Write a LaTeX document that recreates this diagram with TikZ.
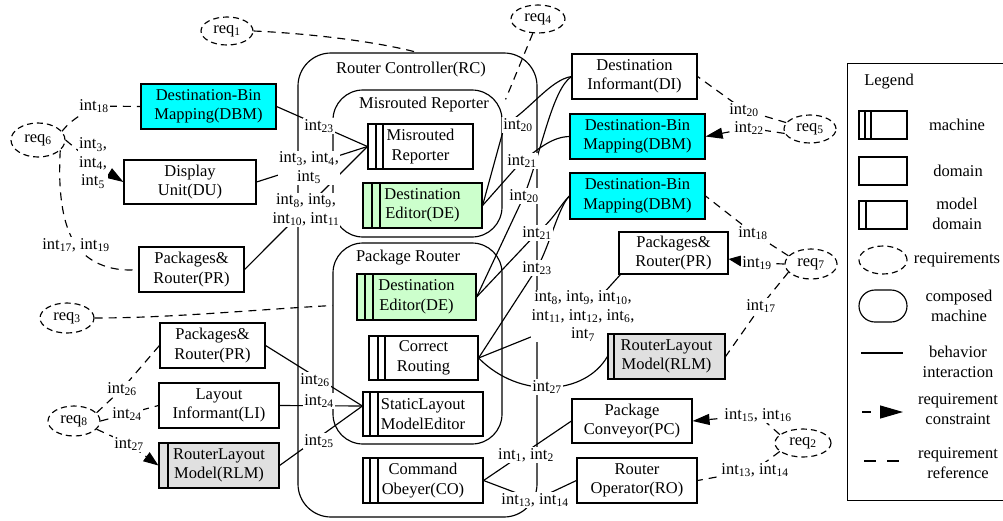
\documentclass[tikz,border=0pt]{standalone}
\usepackage{fontspec}
\setmainfont{Liberation Serif}
\usetikzlibrary{arrows.meta,shapes.geometric}
\newcommand\intx[1]{int\textsubscript{#1}}
\definecolor{dbmcyan}{RGB}{0,255,255}
\definecolor{degreen}{RGB}{204,255,204}
\definecolor{rlmgray}{RGB}{224,224,224}
\pgfdeclarelayer{edges}
\pgfsetlayers{edges,main}
\begin{document}
\begin{tikzpicture}[x=1pt,y=-1pt,line width=1.15pt,
  font=\fontsize{16.5pt}{19.5pt}\selectfont,
  every node/.style={align=center,inner sep=0pt},
  sz/.style 2 args={minimum width=#1pt,minimum height=#2pt},
  dombox/.style={draw,rectangle,fill=white},
  machbox/.style 2 args={draw,rectangle,fill=white,path picture={
    \draw ([xshift=#1pt]path picture bounding box.north west) -- ([xshift=#1pt]path picture bounding box.south west);
    \draw ([xshift=#2pt]path picture bounding box.north west) -- ([xshift=#2pt]path picture bounding box.south west);}},
  modelbox/.style={draw,rectangle,fill=rlmgray,path picture={
    \draw ([xshift=#1pt]path picture bounding box.north west) -- ([xshift=#1pt]path picture bounding box.south west);}},
  compbox/.style={draw,rectangle,rounded corners=#1},
  reqell/.style={draw,ellipse,dash pattern=on 6pt off 4pt},
  lbl/.style={fill=white,inner sep=1pt,font=\fontsize{16.5pt}{18.5pt}\selectfont},
  refer/.style={dash pattern=on 8pt off 6pt},
  constr/.style={refer,-{Triangle[length=#1,width=11pt]}},
  constr/.default=17pt]
\useasboundingbox (0,0) rectangle (1003,520);

% composed machines
\node[compbox=33pt,sz={239}{464}] (RC) at (417.5,285) {};
\node (RCt) at (411,70) {Router Controller(RC)};
\node[compbox=30pt,sz={169}{147}] (MRc) at (417.5,163.5) {};
\node (MRct) at (424,105) {Misrouted Reporter};
\node[compbox=30pt,sz={169}{201}] (PRc) at (417.5,343.5) {};
\node (PRct) at (408,258) {Package Router};

% requirements
\node[reqell,sz={52}{28}] (req1) at (227,31) {req\textsubscript{1}};
\node[reqell,sz={54}{28}] (req4) at (538,19) {req\textsubscript{4}};
\node[reqell,sz={54}{34}] (req6) at (38,140) {req\textsubscript{6}};
\node[reqell,sz={54}{30}] (req3) at (67,318) {req\textsubscript{3}};
\node[reqell,sz={52}{30}] (req8) at (74,421) {req\textsubscript{8}};
\node[reqell,sz={52}{28}] (req5) at (810,129) {req\textsubscript{5}};
\node[reqell,sz={52}{30}] (req7) at (811,264) {req\textsubscript{7}};
\node[reqell,sz={56}{28}] (req2) at (803,443) {req\textsubscript{2}};

% interface labels
\node[lbl] (t23a) at (319,126) {\intx{23}};
\node[lbl] (t345) at (309,168) {\intx{3}, \intx{4},\\\intx{5}};
\node[lbl] (t811) at (306,210) {\intx{8}, \intx{9},\\\intx{10}, \intx{11}};
\node[lbl] (t18a) at (94,106) {\intx{18}};
\node[lbl] (t345b) at (93,163) {\intx{3},\\\intx{4},\\\intx{5}};
\node[lbl] (t1719) at (76,245) {\intx{17}, \intx{19}};
\node[lbl] (t26a) at (122,389) {\intx{26}};
\node[lbl] (t24a) at (127,414) {\intx{24}};
\node[lbl] (t27a) at (129,444) {\intx{27}};
\node[lbl] (t26b) at (315,380) {\intx{26}};
\node[lbl] (t24b) at (319,401) {\intx{24}};
\node[lbl] (t25) at (319,441) {\intx{25}};
\node[lbl] (t20a) at (518,125) {\intx{20}};
\node[lbl] (t21a) at (522,161) {\intx{21}};
\node[lbl] (t20b) at (524,196) {\intx{20}};
\node[lbl] (t21b) at (537,233) {\intx{21}};
\node[lbl] (t23b) at (537,268) {\intx{23}};
\node[lbl] (t8) at (583,316) {\intx{8}, \intx{9}, \intx{10},\\\intx{11}, \intx{12}, \intx{6},\\\intx{7}};
\node[lbl] (t27b) at (547,387) {\intx{27}};
\node[lbl] (t12) at (526,455) {\intx{1}, \intx{2}};
\node[lbl] (t1314a) at (535,500) {\intx{13}, \intx{14}};
\node[lbl] (t20c) at (744,110) {\intx{20}};
\node[lbl] (t22) at (749,128) {\intx{22}};
\node[lbl] (t18b) at (753,233) {\intx{18}};
\node[lbl] (t19b) at (757,263) {\intx{19}};
\node[lbl] (t17b) at (761,306) {\intx{17}};
\node[lbl] (t1516) at (758,415) {\intx{15}, \intx{16}};
\node[lbl] (t1314b) at (755,470) {\intx{13}, \intx{14}};

% machines
\node[machbox={8}{15},sz={105}{45}] (MR) at (420.5,146.5) {Misrouted\\Reporter};
\node[machbox={9}{17},fill=degreen,sz={119}{45}] (DEm) at (422.5,205.5) {Destination\\Editor(DE)};
\node[machbox={8}{16},fill=degreen,sz={119}{46}] (DEp) at (416.5,297) {Destination\\Editor(DE)};
\node[machbox={9}{16},sz={109}{44}] (CR) at (423.5,358) {Correct\\Routing};
\node[machbox={7}{15},sz={120}{44}] (SLME) at (423,414) {StaticLayout\\ModelEditor};
\node[machbox={7}{15},sz={120}{45}] (CO) at (423,480.5) {Command\\Obeyer(CO)};

% domains
\node[dombox,fill=dbmcyan,sz={135}{45}] (DBMl) at (208.5,106.5) {Destination-Bin\\Mapping(DBM)};
\node[dombox,sz={132}{44}] (DU) at (190,182) {Display\\Unit(DU)};
\node[dombox,sz={105}{45}] (PRl) at (191.5,269.5) {Packages\&\\Router(PR)};
\node[dombox,sz={105}{45}] (PRl2) at (212.5,345.5) {Packages\&\\Router(PR)};
\node[dombox,sz={120}{45}] (LI) at (219,405.5) {Layout\\Informant(LI)};
\node[modelbox=9,sz={120}{45}] (RLMl) at (219,465.5) {RouterLayout\\Model(RLM)};
\node[dombox,sz={125}{45}] (DI) at (634.5,76.5) {Destination\\Informant(DI)};
\node[dombox,fill=dbmcyan,sz={135}{45}] (DBM1) at (637.5,136.5) {Destination-Bin\\Mapping(DBM)};
\node[dombox,fill=dbmcyan,sz={135}{46}] (DBM2) at (637.5,196) {Destination-Bin\\Mapping(DBM)};
\node[dombox,sz={109}{42}] (PRr) at (673.5,253) {Packages\&\\Router(PR)};
\node[modelbox=6,sz={117}{45}] (RLMr) at (666.5,356.5) {RouterLayout\\Model(RLM)};
\node[dombox,sz={120}{44}] (PC) at (632,421) {Package\\Conveyor(PC)};
\node[dombox,sz={120}{45}] (RO) at (637,480.5) {Router\\Operator(RO)};

% attachment points
\coordinate (SLMEin) at ([yshift=8pt]SLME.west);
\coordinate (PRcin) at ([yshift=38pt]PRc.west);
\coordinate (MRcin) at ([shift={(3pt,-10pt)}]MRc.north east);
\coordinate (PRrin) at ([yshift=-6pt]PRr.east);

% legend
\node[draw,sz={170}{437},anchor=north west] (LG) at (847,63) {};
\node (LGt) at (889,82) {Legend};
\node[machbox={6}{12},sz={48}{28}] (LGm) at (883,125) {};
\node (LGmt) at (957,125) {machine};
\node[dombox,sz={48}{28}] (LGd) at (883,171) {};
\node (LGdt) at (958,171) {domain};
\node[modelbox=7,fill=white,sz={48}{28}] (LGmd) at (883,215) {};
\node (LGmdt) at (957,214) {model\\domain};
\node[reqell,sz={48}{28}] (LGr) at (883,260) {};
\node (LGrt) at (957,260) {requirements};
\node[compbox=16pt,sz={48}{32}] (LGc) at (883,306) {};
\node (LGct) at (959,306) {composed\\machine};
\coordinate (LGb1) at (861,353);
\coordinate (LGb2) at (903,353);
\draw (LGb1) -- (LGb2);
\node (LGbt) at (958,362) {behavior\\interaction};
\coordinate (LGk1) at (862,412);
\coordinate (LGk2) at (871,412);
\coordinate (LGk3) at (880,412);
\coordinate (LGk4) at (903,412);
\draw (LGk1) -- (LGk2);
\draw[-{Triangle[length=23pt,width=13pt]}] (LGk3) -- (LGk4);
\node (LGkt) at (958,409) {requirement\\constraint};
\coordinate (LGf1) at (864,461);
\coordinate (LGf2) at (903,461);
\draw[dash pattern=on 12pt off 11pt] (LGf1) -- (LGf2);
\node (LGft) at (958,463) {requirement\\reference};

\begin{pgfonlayer}{edges}
\begin{scope}[line width=1.15pt]
% behavior interactions
\draw (DBMl.east) -- (MR.west);
\draw (DU.east) -- (MR.west);
\draw (PRl.east) -- (MR.west);
\draw (PRl2.east) -- (SLMEin);
\draw (LI.east) -- (SLMEin);
\draw (RLMl.east) -- (SLMEin);
\draw (DEm.east) -- ([xshift=3pt]t20a.west) .. controls (530,110) and (550,80) .. (DI.west);
\draw (DEm.east) -- (t21a.center) .. controls (540,148) and (552,137) .. (DBM1.west);
\draw (DEp.east) -- (t20b.center) .. controls (542,150) and (552,90) .. (DI.west);
\draw (DEp.east) -- (t21b.center) .. controls (555,218) and (560,205) .. (DBM2.west);
\draw (CR.east) -- (t23b.center) .. controls (550,245) and (558,208) .. (DBM2.west);
\draw (CR.east) -- (t8.center) -- ([xshift=2pt]PRr.south west);
\draw (CR.east) .. controls (520,400) and (585,395) .. (RLMr.west);
\draw (CO.east) -- (PC.west);
\draw (CO.east) -- (t1314a.center) -- (RO.west);
% requirement references and constraints
\draw[refer] (req1.east) .. controls (300,33) and (370,40) .. (RC.north);
\draw[refer] (req3.east) .. controls (170,318) and (250,310) .. (PRcin);
\draw[refer] (req4.-110) -- (MRcin);
\draw[refer] (req6.20) .. controls (70,122) .. (t18a.center) -- (DBMl.west);
\draw[constr] (req6.east) -- (t345b.center) -- (DU.west);
\draw[refer] (req6.-25) .. controls (58,190) and (62,225) .. (t1719.center) .. controls (90,265) and (115,272) .. (PRl.west);
\draw[refer] (req8.20) -- (t26a.center) -- (PRl2.west);
\draw[refer] (req8.east) -- (t24a.center) -- (LI.west);
\draw[constr=15pt] (req8.-20) -- (t27a.center) -- (RLMl.west);
\draw[refer] (req5.165) -- (t20c.center) -- (DI.east);
\draw[constr] (req5.190) -- (t22.center) -- (DBM1.east);
\draw[refer] (req7.160) -- (t18b.center) -- (DBM2.east);
\draw[constr=13pt] (req7.180) -- (t19b.center) -- (PRrin);
\draw[refer] (req7.200) -- (t17b.center) -- (RLMr.east);
\draw[constr] (req2.160) -- (t1516.center) -- (PC.east);
\draw[refer] (req2.200) -- (t1314b.center) -- (RO.east);
\end{scope}
\end{pgfonlayer}
\end{tikzpicture}
\end{document}
